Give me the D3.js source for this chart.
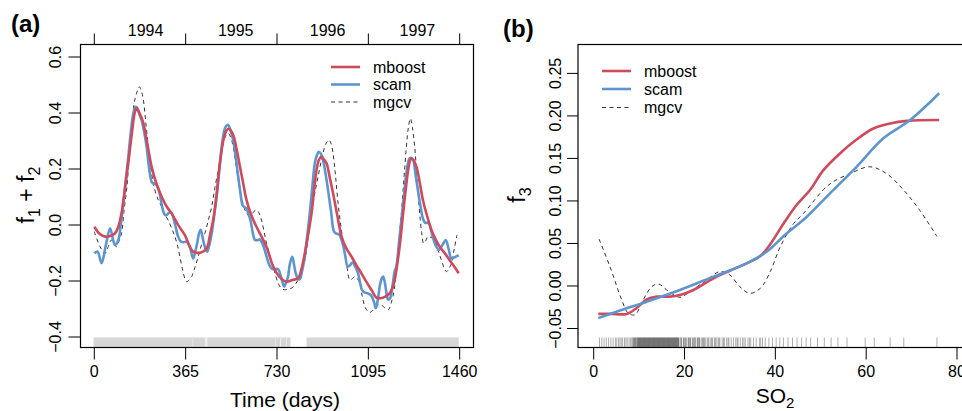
<!DOCTYPE html>
<html><head><meta charset="utf-8">
<script src="https://cdn.jsdelivr.net/npm/d3@7"></script>
<style>
html,body{margin:0;padding:0;background:#fff;}
svg{display:block;font-family:"Liberation Sans",Arial,Helvetica,sans-serif;}
</style></head>
<body><svg id="c" width="962" height="411"></svg>
<script>
// ---------- DATA: panel (a) ----------
const seriesNames = ["mboost", "scam", "mgcv"];
const timeTicks = [0, 365, 730, 1095, 1460];
const yearLabels = ["1994", "1995", "1996", "1997"];
const yearLabelDays = [209, 569, 936, 1295];
const yTicksA = [-0.4, -0.2, 0, 0.2, 0.4, 0.6];
const yTickLabelsA = ["\u22120.4", "\u22120.2", "0.0", "0.2", "0.4", "0.6"];
const rugRangesA = [[1,788],[852,1460]];
const rugLightA = [[396,399],[446,456],[726,729],[746,751],[771,774]];

const mboostA = [[4,-0.01],[25,-0.035],[47,-0.045],[70,-0.042],[87,-0.033],[100,-0.01],[113,0.04],[127,0.13],[140,0.22],[155,0.33],[165,0.395],[173,0.413],[185,0.395],[200,0.36],[215,0.29],[233,0.205],[250,0.15],[273,0.0975],[295,0.06],[313,0.038],[340,-0.005],[366,-0.04],[385,-0.08],[399,-0.099],[415,-0.103],[430,-0.102],[453,-0.087],[466,-0.04],[479,0.014],[493,0.11],[506,0.217],[520,0.3],[533,0.335],[542,0.34],[559,0.318],[572,0.27],[586,0.205],[600,0.14],[612,0.086],[630,0.035],[652,-0.01],[672,-0.045],[692,-0.081],[719,-0.152],[745,-0.19],[772,-0.206],[795,-0.2],[818,-0.194],[832,-0.16],[845,-0.105],[858,-0.04],[872,0.038],[882,0.12],[892,0.193],[902,0.23],[912,0.24],[922,0.23],[932,0.217],[945,0.165],[958,0.11],[975,0.03],[992,-0.045],[1010,-0.085],[1032,-0.117],[1050,-0.145],[1071,-0.176],[1090,-0.205],[1111,-0.235],[1131,-0.263],[1150,-0.265],[1165,-0.26],[1184,-0.248],[1200,-0.215],[1211,-0.164],[1224,-0.08],[1238,0.038],[1248,0.12],[1258,0.193],[1265,0.225],[1271,0.235],[1280,0.228],[1291,0.205],[1304,0.15],[1317,0.086],[1335,0.025],[1351,-0.021],[1368,-0.055],[1384,-0.081],[1405,-0.105],[1424,-0.129],[1445,-0.155],[1460,-0.176]];

const scamA = [[4,-0.105],[17,-0.099],[33,-0.14],[49,-0.081],[67,-0.015],[80,-0.06],[87,-0.075],[100,-0.057],[110,0.0],[120,0.074],[130,0.16],[140,0.24],[150,0.33],[160,0.395],[168,0.418],[175,0.415],[185,0.39],[193,0.371],[203,0.33],[213,0.276],[223,0.2],[233,0.151],[241,0.143],[249,0.145],[255,0.135],[262,0.121],[272,0.075],[280,0.044],[287,0.032],[293,0.032],[303,0.04],[313,0.038],[326,0.0],[339,-0.045],[350,-0.063],[362,-0.065],[373,-0.063],[385,-0.08],[399,-0.123],[407,-0.1],[415,-0.069],[422,-0.035],[429,-0.021],[436,-0.045],[442,-0.069],[449,-0.09],[455,-0.099],[465,-0.07],[473,-0.033],[483,0.03],[493,0.098],[503,0.19],[513,0.276],[520,0.32],[526,0.342],[533,0.352],[539,0.354],[548,0.335],[559,0.30],[569,0.24],[579,0.169],[588,0.11],[596,0.068],[604,0.06],[612,0.056],[620,0.035],[628,0.014],[637,-0.03],[646,-0.057],[655,-0.058],[665,-0.055],[673,-0.065],[681,-0.081],[692,-0.115],[703,-0.146],[714,-0.16],[725,-0.162],[734,-0.16],[741,-0.164],[752,-0.195],[763,-0.224],[770,-0.21],[778,-0.188],[786,-0.14],[795,-0.117],[802,-0.145],[809,-0.176],[817,-0.195],[825,-0.198],[835,-0.165],[845,-0.117],[855,-0.04],[865,0.038],[875,0.13],[885,0.217],[893,0.245],[901,0.258],[910,0.25],[918,0.229],[928,0.18],[938,0.121],[950,0.045],[962,-0.027],[972,-0.035],[981,-0.036],[990,-0.052],[998,-0.075],[1007,-0.115],[1016,-0.152],[1025,-0.148],[1032,-0.14],[1038,-0.138],[1045,-0.15],[1058,-0.176],[1066,-0.21],[1074,-0.236],[1085,-0.245],[1098,-0.248],[1110,-0.255],[1122,-0.28],[1129,-0.301],[1137,-0.27],[1145,-0.22],[1152,-0.195],[1158,-0.188],[1165,-0.21],[1172,-0.25],[1178,-0.27],[1186,-0.265],[1195,-0.225],[1204,-0.17],[1211,-0.152],[1221,-0.07],[1231,0.014],[1241,0.1],[1251,0.181],[1258,0.22],[1264,0.235],[1270,0.236],[1278,0.229],[1287,0.18],[1297,0.121],[1307,0.065],[1317,0.02],[1325,0.005],[1333,0.004],[1341,0.0025],[1350,-0.025],[1360,-0.057],[1370,-0.08],[1381,-0.093],[1395,-0.075],[1408,-0.057],[1420,-0.09],[1431,-0.123],[1445,-0.118],[1460,-0.111]];

const mgcvA = [[4,-0.027],[27,-0.081],[47,-0.105],[60,-0.08],[73,-0.057],[85,-0.075],[93,-0.081],[103,-0.06],[113,-0.033],[123,0.05],[133,0.121],[143,0.23],[153,0.336],[163,0.43],[173,0.467],[184,0.49],[192,0.475],[200,0.443],[210,0.36],[220,0.276],[233,0.18],[246,0.121],[260,0.085],[273,0.062],[286,0.035],[299,0.014],[313,-0.015],[326,-0.045],[336,-0.075],[346,-0.117],[356,-0.16],[366,-0.195],[373,-0.206],[383,-0.2],[393,-0.188],[406,-0.155],[419,-0.117],[432,-0.075],[446,-0.033],[460,0.015],[473,0.062],[486,0.13],[499,0.193],[509,0.245],[519,0.288],[529,0.315],[539,0.324],[549,0.31],[559,0.276],[572,0.2],[586,0.121],[599,0.07],[612,0.038],[622,0.03],[632,0.032],[642,0.045],[652,0.05],[662,0.04],[672,0.014],[682,-0.025],[692,-0.069],[705,-0.11],[719,-0.152],[729,-0.185],[739,-0.212],[752,-0.23],[765,-0.235],[778,-0.232],[790,-0.23],[803,-0.22],[818,-0.2],[832,-0.17],[845,-0.129],[858,-0.05],[872,0.038],[885,0.11],[898,0.169],[912,0.23],[925,0.276],[933,0.292],[941,0.30],[949,0.29],[958,0.252],[968,0.17],[978,0.074],[991,-0.02],[1005,-0.105],[1015,-0.16],[1025,-0.2],[1035,-0.195],[1045,-0.188],[1055,-0.195],[1065,-0.212],[1075,-0.26],[1085,-0.295],[1095,-0.31],[1105,-0.316],[1115,-0.31],[1125,-0.3],[1135,-0.29],[1145,-0.288],[1155,-0.292],[1165,-0.3],[1178,-0.307],[1191,-0.28],[1204,-0.224],[1217,-0.1],[1231,0.038],[1241,0.16],[1251,0.276],[1259,0.345],[1267,0.377],[1275,0.345],[1284,0.276],[1294,0.16],[1304,0.038],[1312,-0.03],[1320,-0.069],[1328,-0.06],[1337,-0.045],[1350,-0.048],[1364,-0.057],[1378,-0.095],[1391,-0.129],[1401,-0.155],[1411,-0.17],[1421,-0.16],[1431,-0.14],[1442,-0.09],[1453,-0.039]];

// ---------- DATA: panel (b) ----------
const so2Ticks = [0, 20, 40, 60, 80];
const yTicksB = [-0.05, 0, 0.05, 0.10, 0.15, 0.20, 0.25];
const yTickLabelsB = ["\u22120.05", "0.00", "0.05", "0.10", "0.15", "0.20", "0.25"];
const mboostB = [[1.24,-0.034],[4,-0.034],[7.5,-0.034],[9.7,-0.027],[11.9,-0.017],[14.1,-0.0137],[17,-0.0137],[19.2,-0.0118],[22.2,-0.0059],[26.6,0.0078],[30.2,0.0168],[33.9,0.0255],[36.9,0.034],[39.1,0.048],[42,0.072],[44.9,0.094],[47.9,0.112],[50.8,0.135],[54.5,0.155],[58.1,0.171],[61.8,0.184],[65.5,0.19],[69.2,0.193],[76.3,0.194]];
const scamB = [[1.24,-0.039],[6,-0.03],[11.9,-0.0196],[19.2,-0.0059],[26.6,0.0098],[33.9,0.0255],[38.3,0.039],[42.3,0.0588],[47.1,0.080],[52.3,0.108],[58.1,0.139],[64,0.1725],[69.9,0.194],[76.3,0.2255]];
const mgcvB = [[1.4,0.054],[3.8,0.0216],[6.4,-0.0176],[7.8,-0.033],[9.3,-0.035],[11.1,-0.0176],[13,-0.002],[14.5,0.0012],[16.3,-0.0059],[19.2,-0.0145],[21.4,-0.0078],[25.1,0.0059],[28,0.0157],[30.2,0.0118],[32.4,-0.002],[34.6,-0.0098],[36.9,-0.004],[39.1,0.0157],[41.3,0.045],[44.2,0.072],[46.4,0.084],[50.8,0.112],[53,0.1216],[56.7,0.131],[61,0.139],[64.7,0.131],[68.4,0.112],[72,0.088],[75.8,0.057]];
const rugB = [1.5,2,2.5,3,3.5,4,4.5,5,5.3,5.7,6,6.3,6.6,7,7.3,7.6,8,8.3,8.6,9,9.2,9.4,9.6,9.8,10,10.2,10.4,10.6,10.8,11,11.2,11.4,11.6,11.8,12,12.2,12.4,12.6,12.8,13,13.2,13.4,13.6,13.8,14,14.2,14.4,14.6,14.8,15,15.2,15.4,15.6,15.8,16,16.2,16.4,16.6,16.8,17,17.2,17.4,17.6,17.8,18,18.2,18.4,18.6,18.8,19,19.3,19.6,20,20.3,20.6,21,21.3,21.6,22,22.3,22.6,23,23.3,23.6,24,24.4,24.8,25.2,25.6,26,26.4,26.8,27.2,27.6,28,28.5,29,29.5,30,30.5,31,31.5,32,32.5,33,33.6,34.2,34.8,35.4,36,36.7,37.4,38,38.8,39.6,40.4,41.2,42,43,44,45,46,47,48,49.5,51,52.5,54,56,60,62,65.5,68.5,75.8,
  8.8,9.1,9.5,9.9,10.1,10.3,10.5,10.7,10.9,11.1,11.3,11.5,11.7,11.9,12.1,12.3,12.5,12.7,12.9,13.1,13.3,13.5,13.7,13.9,14.1,14.3,14.5,14.7,14.9,15.1,15.3,15.5,15.7,15.9,16.1,16.3,16.5,16.7,16.9,17.1,17.3,17.5,17.7,17.9,18.1,18.3,18.5,18.7,18.9,19.5,20.1,20.5,21.1,21.5,22.1,22.5,23.1,23.5,24.2,24.6,25.4,26.2,27,27.8,28.8,29.8,31.8,33.3,34.5,37];

// ---------- CHART ----------
const colors = {mboost:"#cd4b5c", scam:"#5f95cf", mgcv:"#333333"};
const svg = d3.select("#c");
const FONT = 16;

const A = {l:80, r:473, t:44, b:347};
const xA = d3.scaleLinear().domain([0,1460]).range([93.3,458.7]);
const yA = d3.scaleLinear().domain([-0.4,0.6]).range([336,56]);
const B = {l:577.5, t:44, b:347};
const xB = d3.scaleLinear().domain([0,80]).range([592.7,956]);
const yB = d3.scaleLinear().domain([-0.05,0.25]).range([327.5,72.4]);
B.r = xB(83.3);

function styleAxis(g){
  g.select(".domain").remove();
  g.selectAll(".tick line").attr("stroke","#000").attr("stroke-width",1);
  g.selectAll("text").attr("fill","#000").style("font-size",FONT+"px");
}

// rug (a)
svg.append("g").selectAll("rect").data(rugRangesA).join("rect")
  .attr("x",d=>xA(d[0])).attr("width",d=>xA(d[1])-xA(d[0]))
  .attr("y",337.5).attr("height",A.b-337.5).attr("fill","#d6d6d6");
svg.append("g").selectAll("rect").data(rugLightA).join("rect")
  .attr("x",d=>xA(d[0])).attr("width",d=>xA(d[1])-xA(d[0]))
  .attr("y",337.5).attr("height",A.b-337.5).attr("fill","#ececec");

// rug (b)
svg.append("g").selectAll("line").data(rugB).join("line")
  .attr("x1",d=>xB(d)).attr("x2",d=>xB(d)).attr("y1",337.5).attr("y2",B.b)
  .attr("stroke","#000").attr("stroke-opacity",0.4).attr("stroke-width",0.8);

// lines
const lineA = d3.line().x(d=>xA(d[0])).y(d=>yA(d[1])).curve(d3.curveCatmullRom.alpha(0.5));
const lineB = d3.line().x(d=>xB(d[0])).y(d=>yB(d[1])).curve(d3.curveCatmullRom.alpha(0.5));
const gA = svg.append("g");
gA.append("path").attr("d",lineA(mgcvA)).attr("fill","none").attr("stroke",colors.mgcv).attr("stroke-width",1).attr("stroke-dasharray","4,3.5");
gA.append("path").attr("d",lineA(scamA)).attr("fill","none").attr("stroke",colors.scam).attr("stroke-width",2.6).attr("stroke-linejoin","round");
gA.append("path").attr("d",lineA(mboostA)).attr("fill","none").attr("stroke",colors.mboost).attr("stroke-width",2.6).attr("stroke-linejoin","round");

const gB = svg.append("g");
gB.append("path").attr("d",lineB(mgcvB)).attr("fill","none").attr("stroke",colors.mgcv).attr("stroke-width",1).attr("stroke-dasharray","4,3.5");
gB.append("path").attr("d",lineB(mboostB)).attr("fill","none").attr("stroke",colors.mboost).attr("stroke-width",2.6).attr("stroke-linejoin","round");
gB.append("path").attr("d",lineB(scamB)).attr("fill","none").attr("stroke",colors.scam).attr("stroke-width",2.6).attr("stroke-linejoin","round");

// boxes
svg.append("rect").attr("x",A.l+0.5).attr("y",A.t+0.5).attr("width",A.r-A.l).attr("height",A.b-A.t)
  .attr("fill","none").attr("stroke","#000").attr("stroke-width",1.2);
svg.append("rect").attr("x",B.l+0.5).attr("y",B.t+0.5).attr("width",B.r-B.l).attr("height",B.b-B.t)
  .attr("fill","none").attr("stroke","#000").attr("stroke-width",1.2);

// axes (a)
const axBA = svg.append("g").attr("transform",`translate(0.5,${A.b+0.5})`)
  .call(d3.axisBottom(xA).tickValues(timeTicks).tickSize(12).tickFormat(d3.format("d")));
styleAxis(axBA);
axBA.selectAll("text").attr("y",29).attr("dy",0);

const axTA = svg.append("g").attr("transform",`translate(0.5,${A.t+0.5})`)
  .call(d3.axisTop(xA).tickValues(timeTicks).tickSize(11).tickFormat(""));
styleAxis(axTA);
svg.append("g").selectAll("text").data(yearLabels).join("text")
  .attr("x",(d,i)=>xA(yearLabelDays[i])).attr("y",35.5).attr("text-anchor","middle")
  .style("font-size",FONT+"px").text(d=>d);

const axLA = svg.append("g").attr("transform",`translate(${A.l+0.5},0.5)`)
  .call(d3.axisLeft(yA).tickValues(yTicksA).tickSize(12).tickFormat((d,i)=>yTickLabelsA[i]));
styleAxis(axLA);
axLA.selectAll("text").attr("text-anchor","middle").attr("x",0).attr("dy",0).attr("y",-19.5).attr("transform","rotate(-90)");

// axes (b)
const axBB = svg.append("g").attr("transform",`translate(0.5,${B.b+0.5})`)
  .call(d3.axisBottom(xB).tickValues(so2Ticks).tickSize(12).tickFormat(d3.format("d")));
styleAxis(axBB);
axBB.selectAll("text").attr("y",29).attr("dy",0);

const axLB = svg.append("g").attr("transform",`translate(${B.l+0.5},0.5)`)
  .call(d3.axisLeft(yB).tickValues(yTicksB).tickSize(11).tickFormat((d,i)=>yTickLabelsB[i]));
styleAxis(axLB);
axLB.selectAll("text").attr("text-anchor","middle").attr("x",0).attr("dy",0).attr("y",-17.5).attr("transform","rotate(-90)");

// axis titles
svg.append("text").attr("x",285).attr("y",406.5).attr("text-anchor","middle").style("font-size","21px").text("Time (days)");
const so2 = svg.append("text").attr("x",775).attr("y",403).attr("text-anchor","middle").style("font-size","21px");
so2.append("tspan").text("SO");
so2.append("tspan").attr("dy",5).style("font-size","15px").text("2");

const fa = svg.append("text").attr("transform","translate(34,195) rotate(-90)").attr("text-anchor","middle").style("font-size","23px");
fa.append("tspan").text("f");
fa.append("tspan").attr("dy",6).style("font-size","16px").text("1");
fa.append("tspan").attr("dy",-6).text(" + f");
fa.append("tspan").attr("dy",6).style("font-size","16px").text("2");

const fb = svg.append("text").attr("transform","translate(525,195) rotate(-90)").attr("text-anchor","middle").style("font-size","23px");
fb.append("tspan").text("f");
fb.append("tspan").attr("dy",6).style("font-size","16px").text("3");

// panel letters
svg.append("text").attr("x",11).attr("y",32).style("font-size","24px").style("font-weight","bold").text("(a)");
svg.append("text").attr("x",503).attr("y",37).style("font-size","24px").style("font-weight","bold").text("(b)");

// legends
function legend(x0, ys){
  const g = svg.append("g");
  seriesNames.forEach((n,i)=>{
    g.append("line").attr("x1",x0).attr("x2",x0+29).attr("y1",ys[i]).attr("y2",ys[i])
      .attr("stroke",colors[n]).attr("stroke-width",n==="mgcv"?1:2.6)
      .attr("stroke-dasharray",n==="mgcv"?"4,3.5":null);
    g.append("text").attr("x",x0+42).attr("y",ys[i]+5.5).style("font-size",FONT+"px").text(n);
  });
}
legend(331,[67,84.5,102]);
legend(602,[71,89,107.5]);
</script></body></html>
